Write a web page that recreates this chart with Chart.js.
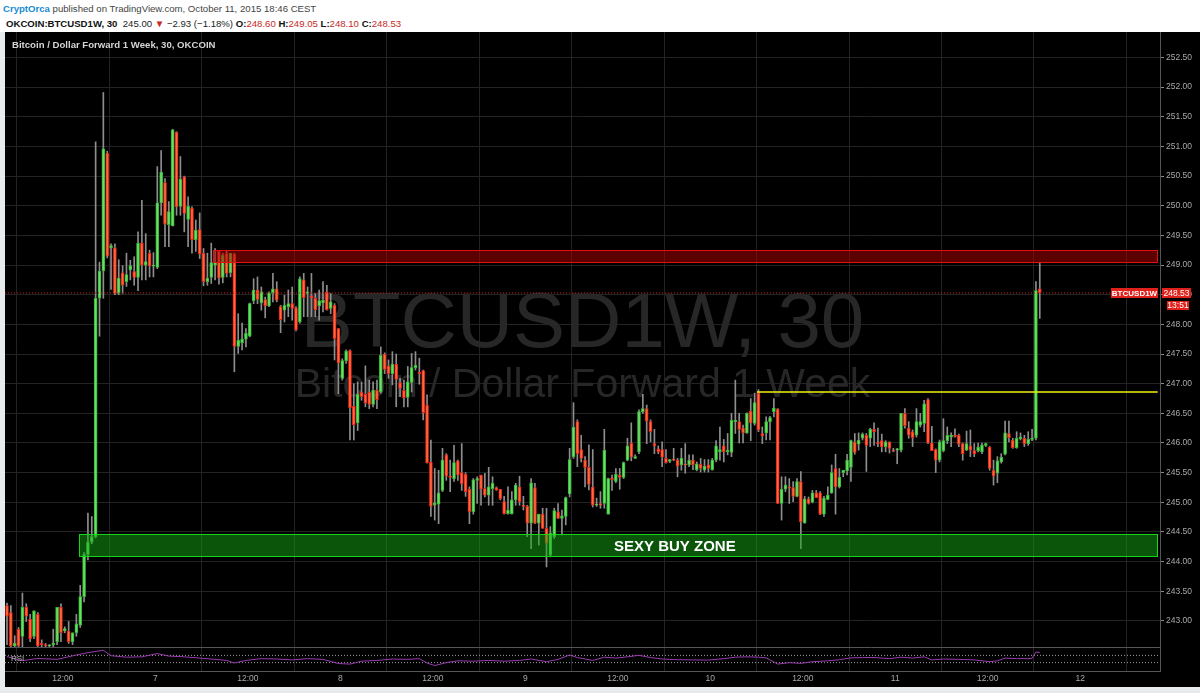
<!DOCTYPE html>
<html>
<head>
<meta charset="utf-8">
<script src="https://cdn.jsdelivr.net/npm/chart.js@4.4.1/dist/chart.umd.min.js"></script>
<style>
  html, body { margin: 0; padding: 0; background: #fff; }
  body { width: 1200px; height: 693px; overflow: hidden; position: relative; font-family: "Liberation Sans", Arial, sans-serif; }
  #l1 { position: absolute; left: 3px; top: 3px; font-size: 9.6px; color: #444; white-space: nowrap; }
  #l1 .u { color: #1a8ad4; font-weight: 700; }
  #l2 { position: absolute; left: 6px; top: 18px; font-size: 9.6px; color: #222; white-space: nowrap; }
  #l2 b { font-weight: 700; color: #111; }
  .r { color: #c62828; }
  #wrap { position: absolute; left: 0; top: 32px; width: 1200px; height: 661px; background: #e7ebee; }
  #title { position: absolute; left: 12px; top: 39px; font-size: 9.6px; color: #d4d4d4; white-space: nowrap; font-weight: 700; }
</style>
</head>
<body>
<div id="l1"><span class="u">CryptOrca</span> published on TradingView.com, October 11, 2015 18:46 CEST</div>
<div id="l2"><b>OKCOIN:BTCUSD1W, 30</b>&nbsp; 245.00 <span class="r">&#9660;</span> &minus;2.93 (&minus;1.18%) <b>O:</b><span class="r">248.60</span> <b>H:</b><span class="r">249.05</span> <b>L:</b><span class="r">248.10</span> <b>C:</b><span class="r">248.53</span></div>
<div id="wrap"><canvas id="c" width="1200" height="661"></canvas></div>
<div id="title">Bitcoin / Dollar Forward 1 Week, 30, OKCOIN</div>
<script>
// 30 minute candles, index 0 = first bar on the left
const opens = [
  243.26, 243.14, 242.58, 242.86, 242.74, 243.23, 243.03, 242.74, 243.11, 242.62,
  242.60, 242.58, 242.60, 242.65, 243.23, 242.83, 242.83, 242.65, 242.80, 242.93,
  243.41, 244.12, 244.33, 244.42, 248.44, 248.90, 250.89, 249.29, 249.29, 248.52,
  248.87, 248.72, 248.92, 248.89, 248.79, 249.37, 249.00, 249.20, 248.98, 248.96,
  250.05, 250.39, 249.68, 249.66, 251.24, 249.99, 250.49, 249.77, 249.96, 249.43,
  249.60, 249.20, 248.72, 248.79, 249.00, 249.23, 248.79, 249.20, 248.87, 249.18,
  247.63, 247.69, 247.75, 247.80, 248.40, 248.58, 248.36, 248.42, 248.31, 248.52,
  248.60, 248.30, 248.24, 248.30, 248.35, 248.28, 248.04, 248.75, 248.52, 248.48,
  248.44, 248.31, 248.36, 248.55, 248.27, 248.32, 247.93, 247.09, 247.39, 247.56,
  246.62, 246.34, 246.86, 246.82, 246.86, 246.65, 246.89, 246.86, 247.50, 247.30,
  247.17, 247.33, 247.02, 246.89, 246.77, 247.02, 247.27, 247.19, 247.22, 246.64,
  245.68, 244.95, 244.97, 245.20, 245.80, 245.44, 245.40, 245.70, 245.50, 245.47,
  245.22, 244.84, 245.37, 245.46, 245.23, 245.12, 245.23, 245.25, 245.22, 245.01,
  244.81, 244.81, 245.04, 245.26, 244.94, 244.93, 244.65, 245.25, 244.65, 244.80,
  244.56, 244.11, 244.42, 244.84, 244.73, 244.76, 245.14, 245.77, 246.36, 245.89,
  245.71, 245.59, 245.26, 244.95, 244.98, 244.98, 244.80, 245.41, 245.35, 245.46,
  245.42, 245.71, 246.00, 245.74, 245.85, 246.53, 246.58, 246.36, 245.99, 245.90,
  245.89, 245.74, 245.69, 245.72, 245.71, 245.63, 245.65, 245.63, 245.71, 245.55,
  245.64, 245.54, 245.63, 245.55, 245.71, 245.85, 245.95, 245.85, 245.84, 246.36,
  246.36, 246.25, 246.17, 246.54, 246.33, 246.84, 246.16, 246.17, 246.36, 246.53,
  246.57, 244.98, 245.22, 245.26, 245.25, 245.10, 245.35, 244.65, 245.06, 245.00,
  245.16, 245.16, 244.80, 245.05, 245.16, 245.57, 245.26, 245.50, 245.53, 245.59,
  246.02, 245.98, 246.08, 246.13, 246.08, 246.23, 246.00, 246.04, 245.94, 246.02,
  245.87, 245.88, 245.88, 246.50, 246.25, 246.19, 246.13, 246.30, 246.33, 246.73,
  246.00, 245.89, 245.71, 245.87, 246.04, 246.10, 246.13, 246.13, 245.99, 245.88,
  245.95, 245.87, 245.87, 245.85, 245.96, 245.93, 245.54, 245.49, 245.68, 245.81,
  246.16, 246.05, 245.92, 246.07, 246.08, 245.99, 246.06, 246.08, 248.60
];
const highs = [
  243.30, 243.26, 242.75, 242.89, 243.47, 243.29, 243.11, 243.17, 243.14, 242.68,
  242.62, 242.60, 242.86, 243.23, 243.29, 242.90, 242.99, 242.80, 243.11, 243.60,
  244.15, 244.82, 244.76, 251.08, 249.05, 251.91, 250.92, 249.36, 249.36, 249.09,
  248.99, 249.20, 249.08, 249.14, 249.56, 250.09, 249.53, 249.25, 249.21, 250.66,
  250.93, 250.46, 250.07, 251.29, 251.25, 250.83, 250.50, 250.15, 249.98, 249.76,
  249.88, 249.28, 249.20, 249.37, 249.28, 249.25, 249.20, 249.25, 249.20, 249.20,
  248.18, 248.02, 247.93, 248.36, 248.77, 248.80, 248.63, 248.46, 248.55, 248.86,
  248.72, 248.32, 248.49, 248.58, 248.63, 248.30, 248.80, 248.86, 248.63, 248.86,
  248.52, 248.58, 248.72, 248.66, 248.52, 248.35, 247.93, 247.42, 247.57, 247.57,
  247.00, 247.03, 247.03, 247.30, 247.06, 247.03, 247.06, 247.62, 247.52, 247.40,
  247.54, 247.50, 247.09, 247.06, 247.29, 247.51, 247.54, 247.43, 247.23, 246.81,
  246.05, 245.57, 245.54, 245.91, 245.82, 245.71, 245.96, 245.71, 245.99, 245.50,
  245.26, 245.40, 245.43, 245.46, 245.49, 245.59, 245.43, 245.26, 245.22, 245.10,
  245.26, 245.18, 245.32, 245.44, 245.10, 244.95, 245.40, 245.32, 244.80, 244.90,
  244.90, 244.59, 244.90, 244.98, 244.87, 245.09, 245.91, 246.68, 246.39, 246.13,
  245.77, 245.97, 245.89, 245.07, 245.18, 246.23, 245.41, 245.46, 245.57, 245.57,
  245.68, 246.08, 246.34, 245.80, 246.56, 246.82, 246.64, 246.39, 246.23, 245.95,
  246.02, 245.89, 245.72, 245.91, 245.74, 245.91, 245.99, 245.80, 245.80, 245.68,
  245.74, 245.72, 245.72, 245.74, 246.04, 246.27, 246.06, 246.16, 246.50, 247.06,
  246.50, 246.30, 246.51, 246.75, 246.84, 246.90, 246.27, 246.44, 246.45, 246.75,
  246.58, 245.43, 245.43, 245.40, 245.35, 245.40, 245.52, 245.10, 245.09, 245.20,
  245.20, 245.18, 245.10, 245.26, 245.63, 245.81, 245.57, 245.54, 245.81, 246.05,
  246.16, 246.17, 246.17, 246.16, 246.25, 246.34, 246.25, 246.15, 246.04, 246.02,
  245.91, 245.91, 246.50, 246.58, 246.36, 246.22, 246.58, 246.50, 246.72, 246.75,
  246.28, 245.90, 246.05, 246.41, 246.27, 246.17, 246.24, 246.15, 246.00, 246.20,
  246.22, 245.99, 246.00, 246.00, 246.00, 245.94, 245.71, 245.77, 245.82, 246.37,
  246.37, 246.08, 246.19, 246.17, 246.13, 246.19, 246.23, 248.72, 249.05
];
const lows = [
  242.60, 242.56, 242.56, 242.56, 242.56, 242.99, 242.65, 242.70, 242.56, 242.56,
  242.56, 242.55, 242.56, 242.60, 242.65, 242.80, 242.62, 242.60, 242.74, 242.89,
  243.32, 244.03, 244.30, 244.40, 247.80, 248.44, 249.12, 248.59, 248.50, 248.50,
  248.52, 248.64, 248.75, 248.66, 248.57, 248.75, 248.75, 248.80, 248.80, 248.94,
  249.84, 249.31, 249.31, 249.66, 249.84, 249.84, 249.56, 249.31, 249.20, 249.23,
  249.11, 248.65, 248.66, 248.69, 248.75, 248.68, 248.70, 248.80, 248.80, 247.20,
  247.51, 247.57, 247.62, 247.79, 248.35, 248.35, 248.24, 248.11, 248.30, 248.38,
  248.38, 247.86, 248.04, 248.13, 248.07, 247.89, 248.02, 248.13, 248.13, 248.13,
  248.13, 248.07, 248.21, 248.24, 248.18, 247.40, 246.83, 247.06, 247.34, 246.05,
  246.05, 246.21, 246.72, 246.61, 246.58, 246.61, 246.58, 246.84, 247.17, 247.09,
  246.98, 246.61, 246.78, 246.61, 246.61, 246.86, 247.23, 246.99, 246.39, 245.66,
  244.76, 244.70, 244.64, 245.18, 245.37, 245.18, 245.35, 245.37, 245.20, 245.10,
  244.64, 244.80, 244.98, 244.95, 245.09, 244.95, 244.95, 245.20, 245.04, 244.80,
  244.80, 244.80, 244.95, 244.95, 244.87, 244.42, 244.22, 244.64, 244.28, 244.56,
  243.91, 244.08, 244.39, 244.73, 244.45, 244.62, 245.09, 245.74, 245.60, 245.68,
  245.26, 245.21, 244.92, 244.93, 244.90, 244.90, 244.80, 245.20, 245.33, 245.22,
  245.40, 245.70, 245.70, 245.74, 245.82, 246.50, 245.99, 246.02, 245.82, 245.82,
  245.60, 245.66, 245.67, 245.70, 245.43, 245.54, 245.49, 245.60, 245.55, 245.53,
  245.51, 245.51, 245.51, 245.54, 245.68, 245.71, 245.68, 245.80, 245.77, 246.16,
  246.00, 246.00, 246.16, 246.04, 246.30, 246.19, 245.99, 246.05, 246.05, 246.44,
  244.98, 244.70, 245.18, 244.98, 245.01, 245.09, 244.22, 244.65, 244.97, 244.99,
  245.08, 244.79, 244.76, 245.04, 245.15, 244.80, 245.24, 245.43, 245.46, 245.35,
  245.81, 245.88, 246.05, 245.52, 245.94, 245.96, 245.94, 245.85, 245.85, 245.83,
  245.85, 245.65, 245.85, 246.25, 246.08, 245.94, 246.10, 246.27, 246.19, 245.99,
  245.87, 245.50, 245.68, 245.85, 245.99, 245.94, 246.10, 245.94, 245.71, 245.87,
  245.77, 245.77, 245.85, 245.82, 245.94, 245.54, 245.29, 245.33, 245.66, 245.80,
  246.02, 245.91, 245.91, 246.05, 245.94, 245.96, 246.04, 246.05, 248.10
];
const closes = [
  243.08, 242.58, 242.62, 242.58, 243.23, 243.08, 242.70, 243.17, 242.58, 242.60,
  242.58, 242.58, 242.62, 243.23, 242.80, 242.87, 242.65, 242.80, 242.95, 243.41,
  244.12, 244.33, 244.42, 248.44, 248.90, 250.96, 249.15, 249.33, 248.52, 248.78,
  248.66, 248.84, 248.99, 248.79, 249.37, 249.00, 249.06, 248.98, 249.00, 250.05,
  250.57, 249.69, 249.90, 251.28, 249.98, 250.45, 249.87, 249.99, 249.43, 249.59,
  249.19, 248.72, 248.78, 249.04, 249.05, 248.78, 249.17, 248.86, 249.20, 247.63,
  247.73, 247.75, 247.85, 248.35, 248.58, 248.42, 248.55, 248.31, 248.53, 248.60,
  248.41, 248.08, 248.32, 248.35, 248.27, 247.91, 248.77, 248.45, 248.55, 248.44,
  248.25, 248.40, 248.41, 248.25, 248.38, 247.76, 247.35, 247.39, 247.55, 246.59,
  246.31, 246.82, 246.78, 246.67, 246.65, 246.89, 246.73, 247.48, 247.24, 247.17,
  247.33, 247.07, 246.92, 246.76, 247.03, 247.27, 247.31, 247.17, 246.51, 245.67,
  244.93, 244.99, 245.16, 245.71, 245.44, 245.42, 245.67, 245.46, 245.31, 245.18,
  244.84, 245.38, 245.40, 245.22, 245.12, 245.26, 245.32, 245.21, 245.06, 244.81,
  244.87, 245.04, 245.29, 245.01, 244.93, 244.65, 245.33, 244.65, 244.80, 244.56,
  244.31, 244.48, 244.86, 244.73, 244.77, 245.08, 245.72, 246.27, 245.82, 245.74,
  245.59, 245.30, 244.95, 244.97, 244.95, 245.88, 245.40, 245.38, 245.47, 245.42,
  245.67, 245.95, 245.76, 245.77, 246.53, 246.58, 246.37, 246.19, 245.95, 245.85,
  245.76, 245.67, 245.72, 245.71, 245.61, 245.74, 245.63, 245.71, 245.63, 245.65,
  245.57, 245.61, 245.57, 245.71, 245.95, 245.89, 245.85, 245.88, 246.38, 246.38,
  246.23, 246.17, 246.50, 246.34, 246.68, 246.22, 246.12, 246.36, 246.43, 246.59,
  244.98, 245.22, 245.29, 245.24, 245.10, 245.35, 244.67, 245.06, 244.98, 245.16,
  245.08, 244.80, 245.07, 245.12, 245.50, 245.26, 245.42, 245.54, 245.71, 246.04,
  245.84, 246.05, 246.15, 245.96, 246.23, 246.19, 245.99, 245.94, 246.02, 245.91,
  245.86, 245.90, 246.50, 246.29, 246.13, 246.09, 246.36, 246.36, 246.66, 246.00,
  245.87, 245.71, 246.02, 246.04, 246.13, 246.13, 246.11, 245.98, 245.82, 245.99,
  245.88, 245.82, 245.93, 245.97, 245.99, 245.57, 245.44, 245.70, 245.76, 246.17,
  246.09, 245.92, 246.08, 246.10, 245.99, 246.06, 246.08, 248.57, 248.53
];

// RSI read at a subset of bars
const rsiAt = [0, 4, 8, 13, 18, 21, 25, 27, 31, 35, 39, 42, 46, 50, 54, 57, 59, 62, 66, 70,
  74, 78, 82, 86, 89, 92, 96, 100, 104, 107, 109, 111, 114, 117, 121, 125, 129, 133, 136, 140,
  143, 146, 148, 152, 155, 158, 161, 164, 167, 170, 174, 178, 182, 186, 189, 192, 195, 197, 200, 203,
  206, 209, 213, 216, 219, 222, 225, 229, 232, 235, 238, 240, 243, 247, 251, 255, 257, 259, 262, 265,
  266, 267, 268];
const rsiValues = [63, 41, 53, 48, 72, 85, 98, 68, 60, 62, 80, 66, 62, 55, 48, 42, 28, 42, 52, 50,
  45, 52, 48, 25, 22, 38, 42, 50, 48, 52, 28, 14, 30, 40, 38, 42, 38, 42, 50, 35,
  48, 72, 58, 42, 60, 55, 62, 70, 58, 50, 46, 45, 44, 52, 60, 62, 60, 56, 22, 30,
  26, 35, 40, 46, 56, 58, 58, 52, 60, 55, 62, 45, 50, 48, 45, 35, 40, 55, 52, 52,
  54, 88, 86];
const rsiBands = [70, 30];

const timeTickAt = [14.5, 38.5, 62.5, 86.5, 110.5, 134.5, 158.5, 182.5, 206.5, 230.5, 254.5, 278.5];
const timeTickLabels = ['12:00', '7', '12:00', '8', '12:00', '9', '12:00', '10', '12:00', '11', '12:00', '12'];
const priceTicks = [243.0, 243.5, 244.0, 244.5, 245.0, 245.5, 246.0, 246.5, 247.0, 247.5,
  248.0, 248.5, 249.0, 249.5, 250.0, 250.5, 251.0, 251.5, 252.0, 252.5];

const lastPrice = 248.53;
const lastCountdown = '13:51';
const sellZone = { from: 53.5, low: 249.04, high: 249.25 };
const buyZone = { from: 18.8, low: 244.08, high: 244.46, label: 'SEXY BUY ZONE', labelAt: 173.3 };
const breakout = { from: 194.6, price: 246.86 };

const xMin = -0.52, xMax = 299.2;
const FONT = '"Liberation Sans", Arial, sans-serif';

const idx = opens.map((o, i) => i);
const up = idx.map(i => closes[i] >= opens[i]);
const bodies = idx.map(i => ({ x: i, y: [opens[i], closes[i]] }));
const wicks = idx.map(i => ({ x: i, y: [lows[i], highs[i]] }));

const paint = {
  id: 'paint',
  beforeDraw(c) {
    const { ctx, chartArea: a, scales } = c;
    ctx.save();
    ctx.fillStyle = '#000';
    ctx.fillRect(a.left, 0, c.width - a.left, scales.x.bottom);
    ctx.restore();
  },
  beforeDatasetsDraw(c) {
    const { ctx, chartArea: a, scales: { y } } = c;
    const cx = (a.left + a.right) / 2, cy = (y.top + y.bottom) / 2;
    ctx.save();
    ctx.fillStyle = '#272727';
    ctx.textAlign = 'center';
    ctx.font = '78px ' + FONT;
    ctx.fillText('BTCUSD1W, 30', cx, cy + 7);
    ctx.font = '41px ' + FONT;
    ctx.fillText('Bitcoin / Dollar Forward 1 Week', cx, cy + 57);
    ctx.restore();
  },
  afterDatasetsDraw(c) {
    const { ctx, chartArea: a, scales: { x, y, rsi } } = c;
    const box = (z, fill, line) => {
      const l = Math.round(x.getPixelForValue(z.from)), r = Math.round(a.right) - 2;
      const t = Math.round(y.getPixelForValue(z.high)), b = Math.round(y.getPixelForValue(z.low));
      ctx.fillStyle = fill;
      ctx.fillRect(l, t, r - l, b - t);
      ctx.strokeStyle = line;
      ctx.lineWidth = 1;
      ctx.strokeRect(l + 0.5, t + 0.5, r - l - 1, b - t - 1);
    };
    ctx.save();
    box(sellZone, 'rgba(170,0,0,0.55)', '#e01010');
    box(buyZone, 'rgba(20,170,20,0.5)', '#18d418');
    ctx.fillStyle = '#fff';
    ctx.font = 'bold 15px ' + FONT;
    ctx.textAlign = 'center';
    ctx.textBaseline = 'middle';
    ctx.fillText(buyZone.label, x.getPixelForValue(buyZone.labelAt), y.getPixelForValue((buyZone.low + buyZone.high) / 2) + 1);
    // panel separator
    ctx.strokeStyle = '#555';
    ctx.beginPath();
    ctx.moveTo(a.left, Math.round(y.bottom) + 0.5);
    ctx.lineTo(a.right, Math.round(y.bottom) + 0.5);
    ctx.stroke();
    ctx.fillStyle = '#b8b8b8';
    ctx.font = '8px ' + FONT;
    ctx.textAlign = 'left';
    ctx.fillText('RSI', a.left + 6, (rsi.top + rsi.bottom) / 2);
    ctx.restore();
  },
  afterDraw(c) {
    const { ctx, chartArea: a, scales: { y } } = c;
    const py = Math.round(y.getPixelForValue(lastPrice));
    ctx.save();
    ctx.fillStyle = '#e0201b';
    ctx.fillRect(a.right - 49, py - 5, 47, 10);
    ctx.fillRect(a.right + 2, py - 5, 29, 10);
    ctx.fillRect(a.right + 7, py + 8, 22, 9);
    ctx.fillStyle = '#fff';
    ctx.textBaseline = 'middle';
    ctx.textAlign = 'center';
    ctx.font = 'bold 8px ' + FONT;
    ctx.fillText('BTCUSD1W', a.right - 25.5, py + 0.5);
    ctx.font = '8.5px ' + FONT;
    ctx.fillText(lastPrice.toFixed(2), a.right + 16.5, py + 0.5);
    ctx.fillText(lastCountdown, a.right + 18, py + 13);
    ctx.restore();
  }
};

const flat = (v) => [{ x: xMin, y: v }, { x: xMax, y: v }];
const noPadV = s => { s.width = 40; s.paddingTop = 0; s.paddingBottom = 0; };

new Chart(document.getElementById('c'), {
  type: 'bar',
  data: {
    datasets: [
      { type: 'line', data: flat(lastPrice), borderColor: '#d0141a', borderWidth: 1, borderDash: [1, 2],
        pointRadius: 0, yAxisID: 'y', order: 0 },
      { type: 'line', data: [{ x: breakout.from, y: breakout.price }, { x: xMax - 0.6, y: breakout.price }],
        borderColor: '#f0f010', borderWidth: 1.5, pointRadius: 0, yAxisID: 'y', order: 0 },
      { data: bodies, backgroundColor: up.map(u => u ? '#6fdc6a' : '#ff6a3a'),
        borderColor: up.map(u => u ? '#32b832' : '#e4241c'), borderWidth: 1, borderSkipped: false,
        barThickness: 3, minBarLength: 1, grouped: false, yAxisID: 'y', order: 1 },
      { data: wicks, backgroundColor: '#8e8e8e', barThickness: 1, grouped: false, yAxisID: 'y', order: 2 },
      { type: 'line', data: rsiAt.map((v, i) => ({ x: v, y: rsiValues[i] })), borderColor: '#9a3cb0',
        borderWidth: 1, pointRadius: 0, yAxisID: 'rsi', order: 0 },
      ...rsiBands.map(v => ({ type: 'line', data: flat(v), borderColor: '#a0a0a0', borderWidth: 1,
        borderDash: [1, 2], pointRadius: 0, yAxisID: 'rsi', order: 3 }))
    ]
  },
  options: {
    responsive: false,
    animation: false,
    layout: { padding: { left: 5, right: 0, top: 0, bottom: 6 } },
    plugins: { legend: { display: false }, tooltip: { enabled: false } },
    scales: {
      x: {
        type: 'linear', min: xMin, max: xMax, offset: false,
        afterBuildTicks: s => { s.ticks = timeTickAt.map(v => ({ value: v })); },
        afterFit: s => { s.height = 16; s.paddingLeft = 0; s.paddingRight = 0; },
        ticks: { autoSkip: false, maxRotation: 0, padding: 3, color: '#a8a8a8',
          font: { family: FONT, size: 8.5 }, callback: (v, i) => timeTickLabels[i] },
        grid: { color: '#232323', drawTicks: false },
        border: { color: '#555' }
      },
      y: {
        type: 'linear', position: 'right', stack: 'panes', stackWeight: 615,
        min: 242.56, max: 252.93,
        afterBuildTicks: s => { s.ticks = priceTicks.map(v => ({ value: v })); },
        afterFit: noPadV,
        ticks: { color: '#a8a8a8', padding: 2, font: { family: FONT, size: 8.5 }, callback: v => v.toFixed(2) },
        grid: { color: '#232323', tickLength: 4, tickColor: '#888' },
        border: { color: '#555' }
      },
      rsi: {
        type: 'linear', position: 'right', stack: 'panes', stackWeight: 24, min: -16, max: 116,
        afterFit: noPadV,
        ticks: { display: false }, grid: { display: false },
        border: { color: '#555' }
      }
    }
  },
  plugins: [paint]
});
</script>
</body>
</html>
